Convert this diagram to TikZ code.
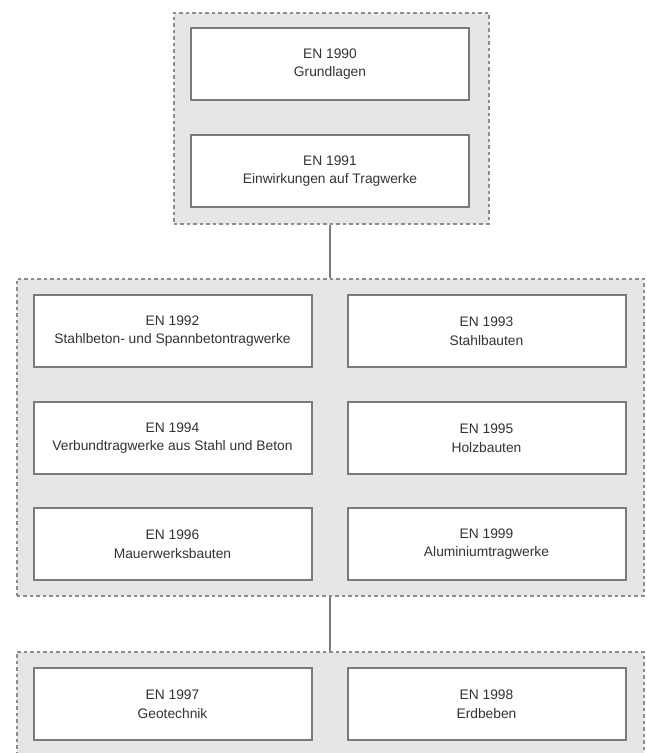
\documentclass[tikz,border=0pt]{standalone}
\usepackage{fontspec}
\setmainfont{Liberation Sans}
\definecolor{grpfill}{HTML}{E6E6E6}
\definecolor{grpline}{HTML}{8C8C8C}
\definecolor{boxline}{HTML}{7A7A7A}
\definecolor{txt}{HTML}{333333}
\begin{document}
\begin{tikzpicture}[x=1pt,y=-1pt,
  grp/.style={fill=grpfill,draw=grpline,line width=1.6pt,dash pattern=on 3.5pt off 3pt},
  ebox/.style={draw=boxline,fill=white,line width=2pt,minimum width=278pt,minimum height=72pt,inner sep=0pt,
    align=center,text=txt,font=\fontsize{13.8}{18.5}\selectfont},
  conn/.style={draw=boxline,line width=1.4pt}]
\useasboundingbox (0,0) rectangle (646,753);
\fill[white] (0,0) rectangle (646,753);
% groups
\node[grp,draw,minimum width=315pt,minimum height=211pt,inner sep=0pt,anchor=north west] (g1) at (173,12) {};
\node[grp,draw,minimum width=627pt,minimum height=317pt,inner sep=0pt,anchor=north west] (g2) at (16,278) {};
\node[grp,draw,minimum width=627pt,minimum height=115pt,inner sep=0pt,anchor=north west] (g3) at (16,651) {};
% boxes
\node[ebox] (b1990) at (330,64) {EN 1990\\Grundlagen};
\node[ebox] (b1991) at (330,171) {EN 1991\\Einwirkungen auf Tragwerke};
\node[ebox] (b1992) at (172.5,331) {EN 1992\\Stahlbeton- und Spannbetontragwerke};
\node[ebox] (b1993) at (486.5,331) {EN 1993\\Stahlbauten};
\node[ebox] (b1994) at (172.5,438) {EN 1994\\Verbundtragwerke aus Stahl und Beton};
\node[ebox] (b1995) at (486.5,438) {EN 1995\\Holzbauten};
\node[ebox] (b1996) at (172.5,544) {EN 1996\\Mauerwerksbauten};
\node[ebox] (b1999) at (486.5,544) {EN 1999\\Aluminiumtragwerke};
\node[ebox] (b1997) at (172.5,704) {EN 1997\\Geotechnik};
\node[ebox] (b1998) at (486.5,704) {EN 1998\\Erdbeben};
% connectors
\draw[conn] (g1.south -| 330,0) -- (g2.north -| 330,0);
\draw[conn] (g2.south -| 330,0) -- (g3.north -| 330,0);
\end{tikzpicture}
\end{document}
